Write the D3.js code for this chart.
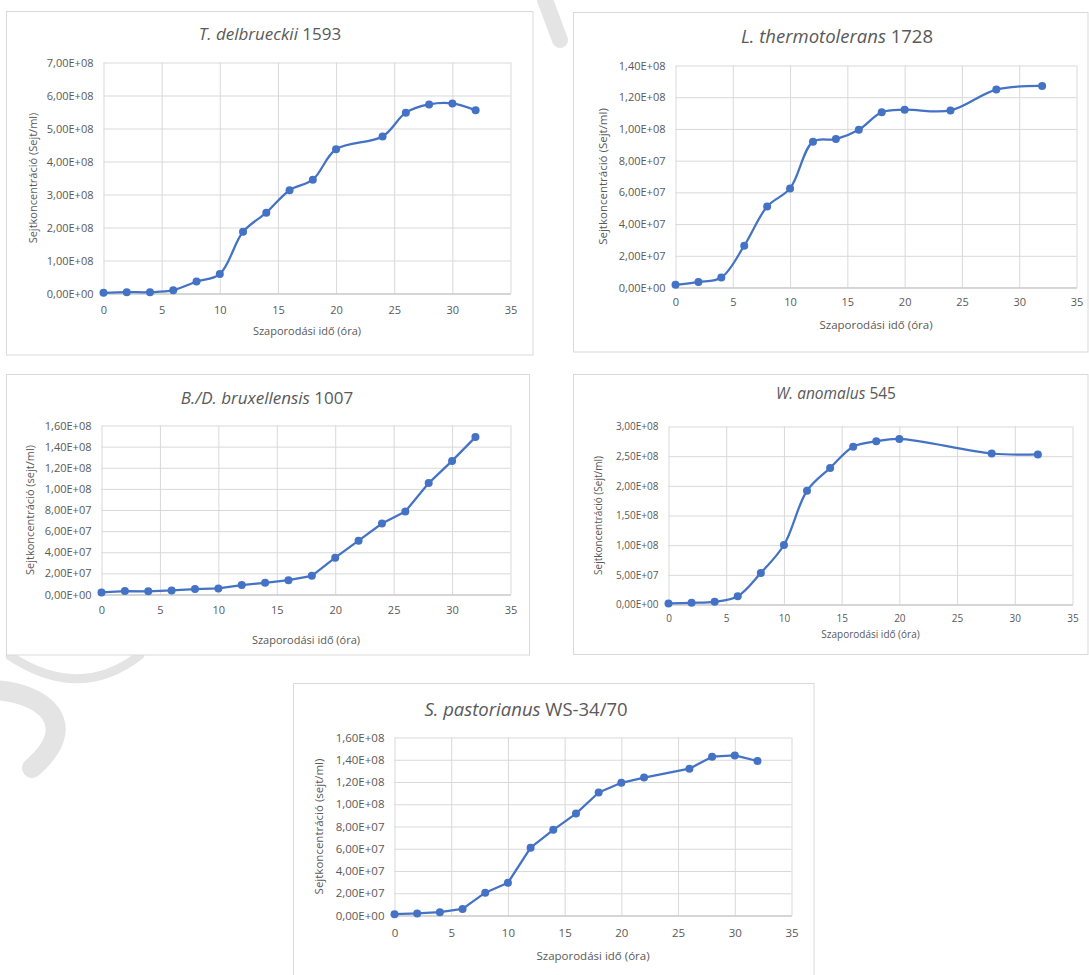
<!DOCTYPE html>
<html>
<head>
<meta charset="utf-8">
<script src="https://cdn.jsdelivr.net/npm/d3@7/dist/d3.min.js"></script>
<style>
  html, body { margin: 0; padding: 0; background: #ffffff; }
  svg { display: block; }
  text { font-family: "Open Sans", "Liberation Sans", sans-serif; fill: #595959; }
</style>
</head>
<body>
<svg id="chart" width="1089" height="975"></svg>
<script>
// ---------------- DATA ----------------
const xTicks = [0, 5, 10, 15, 20, 25, 30, 35];

const hoursDelbrueckii = [0, 2, 4, 6, 8, 10, 12, 14, 16, 18, 20, 24, 26, 28, 30, 32];
const cellsDelbrueckii = [2e6, 4e6, 4e6, 1.0e7, 3.6e7, 5.9e7, 1.87e8, 2.45e8, 3.13e8, 3.45e8, 4.37e8, 4.76e8, 5.48e8, 5.73e8, 5.76e8, 5.55e8];
const yTicksDelbrueckii = [0, 1e8, 2e8, 3e8, 4e8, 5e8, 6e8, 7e8];

const hoursThermo = [0, 2, 4, 6, 8, 10, 12, 14, 16, 18, 20, 24, 28, 32];
const cellsThermo = [1.7e6, 3.4e6, 6.3e6, 2.64e7, 5.11e7, 6.25e7, 9.19e7, 9.36e7, 9.95e7, 1.105e8, 1.121e8, 1.117e8, 1.248e8, 1.271e8];
const yTicksThermo = [0, 2e7, 4e7, 6e7, 8e7, 1e8, 1.2e8, 1.4e8];

const hoursBrux = [0, 2, 4, 6, 8, 10, 12, 14, 16, 18, 20, 22, 24, 26, 28, 30, 32];
const cellsBrux = [1.9e6, 3.2e6, 3.0e6, 3.8e6, 5.1e6, 5.7e6, 8.9e6, 1.11e7, 1.36e7, 1.77e7, 3.49e7, 5.1e7, 6.72e7, 7.86e7, 1.055e8, 1.265e8, 1.49e8];
const yTicksBrux = [0, 2e7, 4e7, 6e7, 8e7, 1e8, 1.2e8, 1.4e8, 1.6e8];

const hoursAnomalus = [0, 2, 4, 6, 8, 10, 12, 14, 16, 18, 20, 28, 32];
const cellsAnomalus = [1.8e6, 2.8e6, 4.5e6, 1.4e7, 5.33e7, 1.003e8, 1.917e8, 2.30e8, 2.66e8, 2.75e8, 2.79e8, 2.545e8, 2.53e8];
const yTicksAnomalus = [0, 5e7, 1e8, 1.5e8, 2e8, 2.5e8, 3e8];

const hoursPastorianus = [0, 2, 4, 6, 8, 10, 12, 14, 16, 18, 20, 22, 26, 28, 30, 32];
const cellsPastorianus = [1.2e6, 1.8e6, 3.0e6, 5.9e6, 2.05e7, 2.94e7, 6.1e7, 7.7e7, 9.16e7, 1.106e8, 1.193e8, 1.24e8, 1.32e8, 1.427e8, 1.439e8, 1.389e8];
const yTicksPastorianus = [0, 2e7, 4e7, 6e7, 8e7, 1e8, 1.2e8, 1.4e8, 1.6e8];

const titleItalic = ["T. delbrueckii", "L. thermotolerans", "B./D. bruxellensis", "W. anomalus", "S. pastorianus"];
const titleRegular = ["1593", "1728", "1007", "545", "WS-34/70"];
const yTitles = ["Sejtkoncentráció (Sejt/ml)", "Sejtkoncentráció (Sejt/ml)", "Sejtkoncentráció (sejt/ml)", "Sejtkoncentráció (Sejt/ml)", "Sejtkoncentráció (sejt/ml)"];
const xTitle = "Szaporodási idő (óra)";

// ---------------- LAYOUT ----------------
const panels = [
  { hours: hoursDelbrueckii, cells: cellsDelbrueckii, yTicks: yTicksDelbrueckii, smooth: true,
    frame: [6.5, 11.5, 526.5, 343.5], plot: [103.5, 510.5, 62.5, 293.5],
    titleX: 270, titleY: 40, titleSize: 17, tickSize: 11, axSize: 11,
    xLabY: 314, xTitleY: 335, yTitleX: 33 },
  { hours: hoursThermo, cells: cellsThermo, yTicks: yTicksThermo, smooth: true,
    frame: [573.5, 12.5, 514.5, 339.5], plot: [675.5, 1076.5, 65.5, 287.5],
    titleX: 837, titleY: 43, titleSize: 18.5, tickSize: 11, axSize: 11.5,
    xLabY: 306, xTitleY: 329, yTitleX: 603 },
  { hours: hoursBrux, cells: cellsBrux, yTicks: yTicksBrux, smooth: false,
    frame: [6.5, 374.5, 523, 280.5], plot: [101.5, 510.5, 425.5, 594.5],
    titleX: 267, titleY: 404, titleSize: 17, tickSize: 11, axSize: 11,
    xLabY: 614, xTitleY: 644, yTitleX: 30 },
  { hours: hoursAnomalus, cells: cellsAnomalus, yTicks: yTicksAnomalus, smooth: true,
    frame: [573.5, 374.5, 514.5, 280], plot: [668.5, 1072.5, 426.5, 604.5],
    titleX: 836, titleY: 399, titleSize: 15.5, tickSize: 10, axSize: 10,
    xLabY: 622, xTitleY: 638, yTitleX: 598 },
  { hours: hoursPastorianus, cells: cellsPastorianus, yTicks: yTicksPastorianus, smooth: false,
    frame: [293.5, 683.5, 520.5, 300], plot: [394.5, 791.5, 737.5, 915.5],
    titleX: 526, titleY: 716, titleSize: 18.5, tickSize: 11.5, axSize: 11.5,
    xLabY: 937, xTitleY: 960, yTitleX: 319 }
];

function sci(v) {
  if (v === 0) return "0,00E+00";
  let e = Math.floor(Math.log10(v) + 1e-9);
  let m = v / Math.pow(10, e);
  return m.toFixed(2).replace(".", ",") + "E+" + String(e).padStart(2, "0");
}

const svg = d3.select("#chart");
svg.append("rect").attr("width", 1089).attr("height", 975).attr("fill", "#ffffff");

// faint watermark fragments behind the panels
const wm = svg.append("g").attr("fill", "none").attr("stroke", "#e4e4e4").attr("stroke-linecap", "round");
wm.append("path").attr("d", "M 10 656 Q 80 702 140 655").attr("stroke-width", 9);
wm.append("path").attr("d", "M -8 690 C 45 692, 82 725, 32 768").attr("stroke-width", 20);
wm.append("path").attr("d", "M 545 0 L 560 40").attr("stroke-width", 16);

panels.forEach((p, i) => {
  const g = svg.append("g");
  const [fx, fy, fw, fh] = p.frame;
  g.append("rect").attr("x", fx).attr("y", fy).attr("width", fw).attr("height", fh)
    .attr("fill", "#ffffff").attr("stroke", "#d9d9d9").attr("stroke-width", 1);

  const [l, r, t, b] = p.plot;
  const x = d3.scaleLinear().domain([0, 35]).range([l, r]);
  const yMax = p.yTicks[p.yTicks.length - 1];
  const y = d3.scaleLinear().domain([0, yMax]).range([b, t]);

  // horizontal gridlines + y labels
  const yAxis = d3.axisLeft(y).tickValues(p.yTicks).tickSize(-(r - l)).tickPadding(10).tickFormat(sci);
  const ya = g.append("g").attr("transform", `translate(${l},0)`).call(yAxis);
  ya.select(".domain").remove();
  ya.selectAll(".tick line").attr("stroke", "#d9d9d9").attr("stroke-width", 1);
  ya.selectAll(".tick text").style("font-size", p.tickSize + "px").style("fill", "#595959")
    .attr("x", -10);

  // vertical gridlines
  const xGrid = d3.axisBottom(x).tickValues(xTicks).tickSize(-(b - t)).tickFormat("");
  const xg = g.append("g").attr("transform", `translate(0,${b})`).call(xGrid);
  xg.select(".domain").remove();
  xg.selectAll(".tick line").attr("stroke", "#d9d9d9").attr("stroke-width", 1);

  // x axis line + labels
  const xAxis = d3.axisBottom(x).tickValues(xTicks).tickSize(0).tickPadding(0).tickFormat(d3.format("d"));
  const xa = g.append("g").attr("transform", `translate(0,${b})`).call(xAxis);
  xa.select(".domain").attr("stroke", "#bfbfbf").attr("stroke-width", 1);
  xa.selectAll(".tick text").style("font-size", p.tickSize + "px").style("fill", "#595959")
    .attr("y", p.xLabY - b).attr("dy", "0");

  // title
  const tt = g.append("text").attr("x", p.titleX).attr("y", p.titleY)
    .attr("text-anchor", "middle").style("font-size", p.titleSize + "px").style("fill", "#595959");
  tt.append("tspan").style("font-style", "italic").text(titleItalic[i]);
  tt.append("tspan").text(" " + titleRegular[i]);

  // axis titles
  g.append("text").attr("x", (l + r) / 2).attr("y", p.xTitleY).attr("text-anchor", "middle")
    .style("font-size", p.axSize + "px").style("fill", "#595959").text(xTitle);
  g.append("text").attr("transform", `translate(${p.yTitleX + 4},${(t + b) / 2}) rotate(-90)`)
    .attr("text-anchor", "middle").style("font-size", p.axSize + "px").style("fill", "#595959").text(yTitles[i]);

  // series
  const pts = p.hours.map((h, k) => [h, p.cells[k]]);
  const line = d3.line().x(d => x(d[0])).y(d => y(d[1]))
    .curve(p.smooth ? d3.curveCatmullRom.alpha(0.5) : d3.curveLinear);
  g.append("path").datum(pts).attr("d", line).attr("fill", "none")
    .attr("stroke", "#4472C4").attr("stroke-width", 2.25).attr("stroke-linejoin", "round");
  g.selectAll("circle.pt").data(pts).enter().append("circle").attr("class", "pt")
    .attr("cx", d => x(d[0])).attr("cy", d => y(d[1])).attr("r", 4)
    .attr("fill", "#4472C4");
});
</script>
</body>
</html>
